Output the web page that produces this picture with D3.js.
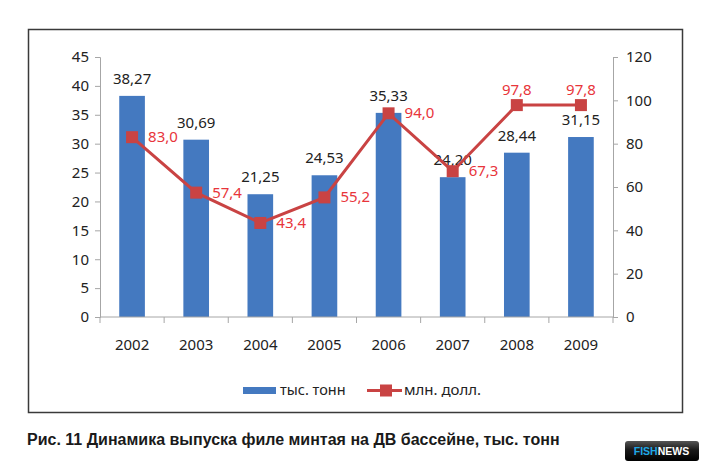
<!DOCTYPE html>
<html><head><meta charset="utf-8">
<script src="https://cdn.jsdelivr.net/npm/d3@7/dist/d3.min.js"></script>
<style>body{margin:0;background:#fff}svg{display:block}</style>
</head><body>
<script>
const years = ["2002","2003","2004","2005","2006","2007","2008","2009"];
const tons = [38.27,30.69,21.25,24.53,35.33,24.20,28.44,31.15];
const dollars = [83.0,57.4,43.4,55.2,94.0,67.3,97.8,97.8];
const leftTicks = [0,5,10,15,20,25,30,35,40,45];
const rightTicks = [0,20,40,60,80,100,120];
const dollarLabelPos = ["right","right","right","right","right","right","top","top"];
const seriesNames = ["тыс. тонн","млн. долл."];
const caption = "Рис. 11 Динамика выпуска филе минтая на ДВ бассейне, тыс. тонн";

const W=709,H=470;
const svg=d3.select("body").append("svg").attr("width",W).attr("height",H);
const font="'Noto Sans', 'Open Sans', sans-serif";
const blue="#4479c0", red="#c94343", redText="#e8353b";

svg.append("rect").attr("x",28.5).attr("y",29.5).attr("width",654).attr("height",383)
  .attr("fill","#fff").attr("stroke","#3a3a3a").attr("stroke-width",1.5);

const x=d3.scaleBand().domain(years).range([100,613]).paddingInner(0.6).paddingOuter(0.3);
const xb=d3.scaleBand().domain(years).range([100,613]);
const yL=d3.scaleLinear().domain([0,45]).range([317,57]);
const yR=d3.scaleLinear().domain([0,120]).range([317,57]);

// axes
const gL=svg.append("g").attr("transform","translate(100,0)")
  .call(d3.axisLeft(yL).tickValues(leftTicks).tickSize(5).tickPadding(6).tickFormat(d3.format("d")));
const gR=svg.append("g").attr("transform","translate(613,0)")
  .call(d3.axisRight(yR).tickValues(rightTicks).tickSize(5).tickPadding(8).tickFormat(d3.format("d")));
[gL,gR].forEach(g=>{
  g.select(".domain").attr("stroke","#a6a6a6");
  g.selectAll(".tick line").attr("stroke","#a6a6a6");
  g.selectAll("text").attr("font-family",font).attr("font-size",15).attr("fill","#222");
});

// bars
svg.selectAll(".bar").data(years).enter().append("rect")
  .attr("x",d=>x(d)).attr("width",x.bandwidth())
  .attr("y",(d,i)=>yL(tons[i])).attr("height",(d,i)=>yL(0)-yL(tons[i]))
  .attr("fill",blue);

// x axis
const gX=svg.append("g").attr("transform","translate(0,317)");
gX.append("line").attr("x1",100).attr("x2",613).attr("stroke","#a6a6a6");
gX.selectAll(".xt").data(years.concat(["end"])).enter().append("line")
  .attr("x1",(d,i)=>i<years.length?xb(d):613).attr("x2",(d,i)=>i<years.length?xb(d):613)
  .attr("y1",0).attr("y2",6).attr("stroke","#a6a6a6");
gX.selectAll(".xl").data(years).enter().append("text")
  .attr("x",d=>xb(d)+xb.bandwidth()/2).attr("y",33).attr("text-anchor","middle")
  .attr("font-family",font).attr("font-size",15).attr("fill","#222").text(d=>d);

// bar labels
svg.selectAll(".bl").data(years).enter().append("text")
  .attr("x",d=>x(d)+x.bandwidth()/2).attr("y",(d,i)=>yL(tons[i])-12)
  .attr("text-anchor","middle").attr("font-family",font).attr("font-size",15).attr("fill","#222")
  .text((d,i)=>tons[i].toFixed(2).replace(".",","));

// line
const cx=d=>xb(d)+xb.bandwidth()/2;
const line=d3.line().x((d,i)=>cx(years[i])).y(d=>yR(d));
svg.append("path").datum(dollars).attr("d",line).attr("fill","none").attr("stroke",red).attr("stroke-width",3);
svg.selectAll(".mk").data(dollars).enter().append("rect")
  .attr("x",(d,i)=>cx(years[i])-6).attr("y",d=>yR(d)-6).attr("width",12).attr("height",12).attr("fill",red);
svg.selectAll(".dl").data(dollars).enter().append("text")
  .attr("x",(d,i)=>dollarLabelPos[i]==="top"?cx(years[i]):cx(years[i])+16)
  .attr("y",(d,i)=>dollarLabelPos[i]==="top"?yR(d)-10:yR(d)+5)
  .attr("text-anchor",(d,i)=>dollarLabelPos[i]==="top"?"middle":"start")
  .attr("font-family",font).attr("font-size",15).attr("fill",redText)
  .text(d=>d.toFixed(1).replace(".",","));

// legend
const lg=svg.append("g");
lg.append("rect").attr("x",243).attr("y",387).attr("width",33).attr("height",7).attr("fill",blue);
lg.append("text").attr("x",280).attr("y",395).attr("font-family",font).attr("font-size",14.5).attr("fill","#222").text(seriesNames[0]);
lg.append("line").attr("x1",367).attr("x2",402).attr("y1",390.5).attr("y2",390.5).attr("stroke",red).attr("stroke-width",3);
lg.append("rect").attr("x",380).attr("y",384.5).attr("width",12).attr("height",12).attr("fill",red);
lg.append("text").attr("x",404).attr("y",395).attr("font-family",font).attr("font-size",15).attr("fill","#222").text(seriesNames[1]);

// caption
svg.append("text").attr("x",27).attr("y",444.5).attr("font-family","'Liberation Sans', Arial, sans-serif")
  .attr("font-weight","bold").attr("font-size",16).attr("fill","#1a1a1a").text(caption);

// logo
const defs=svg.append("defs");
const gr=defs.append("linearGradient").attr("id","lg").attr("x1",0).attr("y1",0).attr("x2",0).attr("y2",1);
gr.append("stop").attr("offset","0%").attr("stop-color","#555");
gr.append("stop").attr("offset","45%").attr("stop-color","#1a1a1a");
gr.append("stop").attr("offset","100%").attr("stop-color","#000");
svg.append("rect").attr("x",625).attr("y",441).attr("width",74).attr("height",20).attr("rx",3).attr("fill","url(#lg)");
const lt=svg.append("text").attr("x",661.5).attr("y",455).attr("text-anchor","middle")
  .attr("font-family","'Liberation Sans', Arial, sans-serif").attr("font-weight","bold").attr("font-size",10.5);
lt.append("tspan").attr("fill","#1fa8e6").text("FISH");
lt.append("tspan").attr("fill","#fff").text("NEWS");
</script>
</body></html>
